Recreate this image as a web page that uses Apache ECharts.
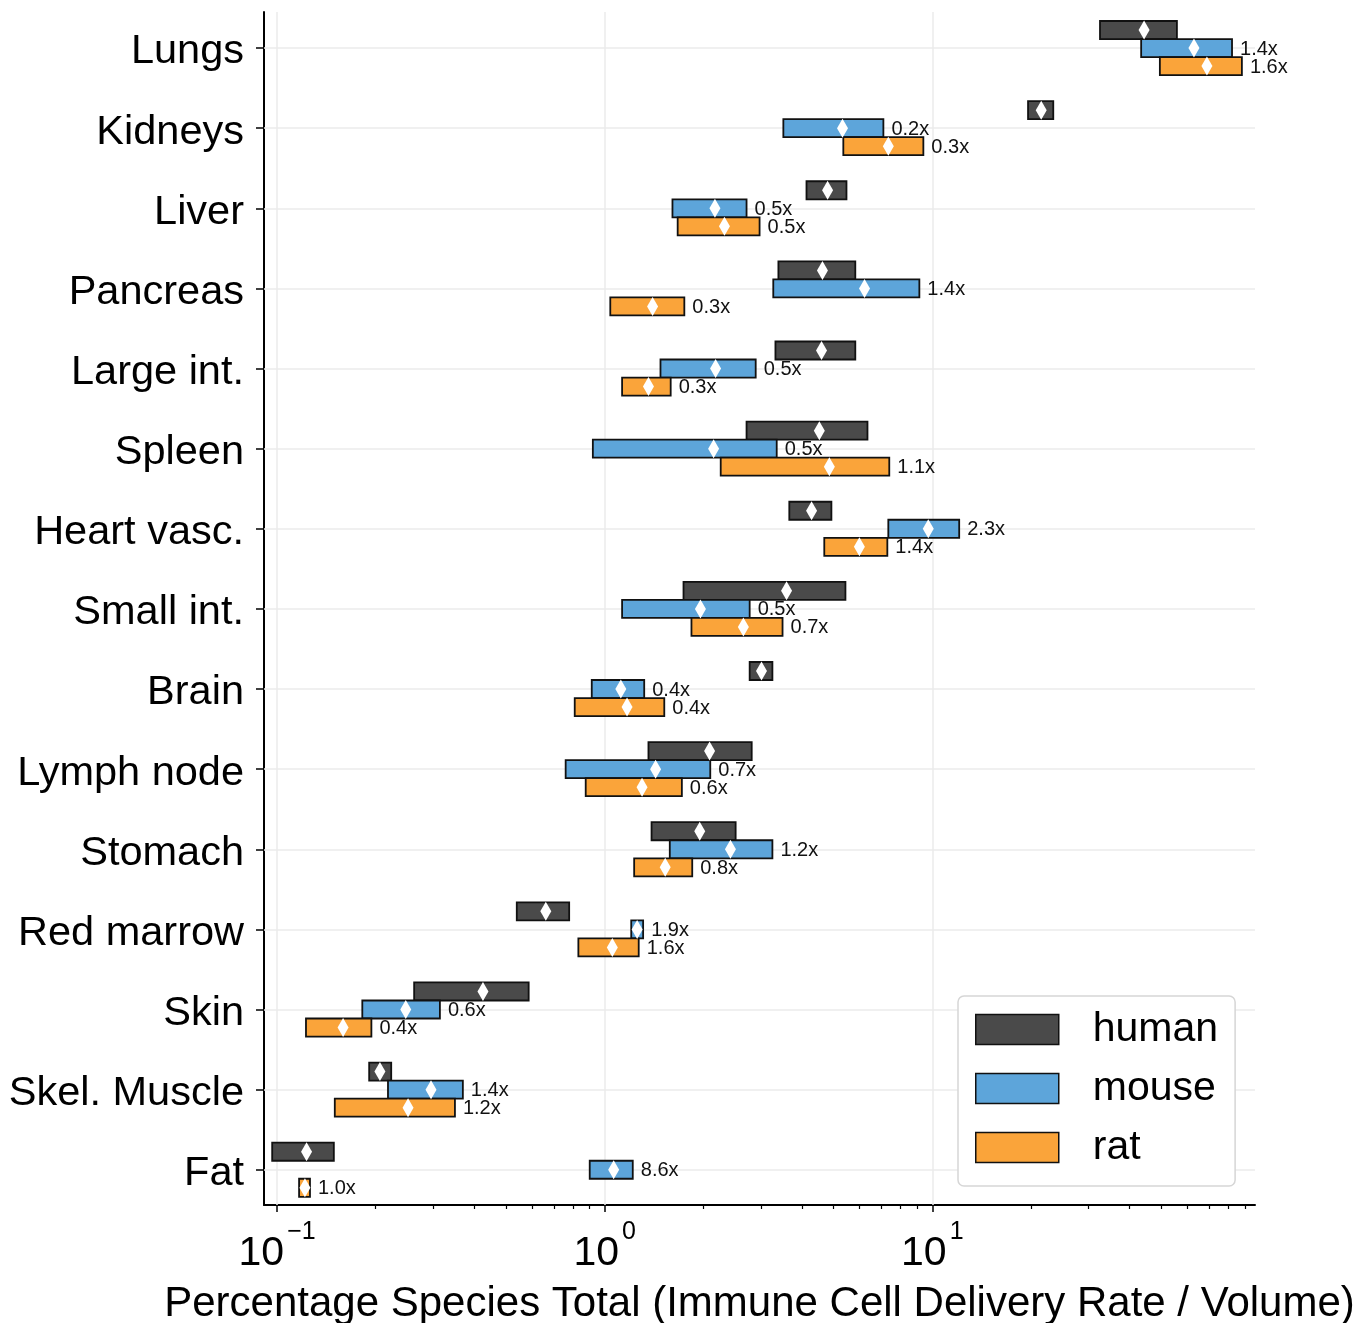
<!DOCTYPE html>
<html><head><meta charset="utf-8">
<script src="https://cdn.jsdelivr.net/npm/echarts@6/dist/echarts.min.js"></script>
<style>html,body{margin:0;padding:0;background:#fff}#c{width:1370px;height:1323px}</style>
</head><body><div id="c"></div>
<script>
const categories = ['Lungs','Kidneys','Liver','Pancreas','Large int.','Spleen','Heart vasc.','Small int.','Brain','Lymph node','Stomach','Red marrow','Skin','Skel. Muscle','Fat'];

const humanLow  = [32.5, 19.6, 4.13, 3.39, 3.32, 2.71, 3.66, 1.74, 2.77, 1.36, 1.39, 0.539, 0.262, 0.191, 0.0966];
const humanHigh = [55.8, 23.4, 5.47, 5.82, 5.82, 6.34, 4.92, 5.43, 3.25, 2.81, 2.51, 0.779, 0.586, 0.223, 0.149];
const humanMid  = [44.3, 21.5, 4.79, 4.62, 4.59, 4.52, 4.28, 3.59, 3.01, 2.09, 1.95, 0.661, 0.425, 0.206, 0.123];

const mouseLow  = [43.4, 3.51, 1.61, 3.27, 1.48, 0.92, 7.34, 1.13, 0.913, 0.76, 1.58, 1.205, 0.182, 0.218, 0.900];
const mouseHigh = [82.2, 7.09, 2.71, 9.13, 2.89, 3.35, 12.08, 2.77, 1.32, 2.10, 3.25, 1.31, 0.314, 0.369, 1.218];
const mouseMid  = [62.9, 5.32, 2.17, 6.21, 2.18, 2.15, 9.72, 1.96, 1.12, 1.43, 2.42, 1.256, 0.247, 0.295, 1.065];
const mouseLabels = ['1.4x','0.2x','0.5x','1.4x','0.5x','0.5x','2.3x','0.5x','0.4x','0.7x','1.2x','1.9x','0.6x','1.4x','8.6x'];

const ratLow  = [49.5, 5.35, 1.67, 1.04, 1.13, 2.26, 4.68, 1.84, 0.81, 0.875, 1.23, 0.831, 0.1225, 0.150, 0.1167];
const ratHigh = [88.1, 9.39, 2.97, 1.75, 1.59, 7.39, 7.29, 3.49, 1.52, 1.72, 1.85, 1.27, 0.194, 0.349, 0.126];
const ratMid  = [68.9, 7.34, 2.32, 1.40, 1.36, 4.85, 5.99, 2.65, 1.17, 1.30, 1.53, 1.055, 0.159, 0.251, 0.1216];
const ratLabels = ['1.6x','0.3x','0.5x','0.3x','0.3x','1.1x','1.4x','0.7x','0.4x','0.6x','0.8x','1.6x','0.4x','1.2x','1.0x'];

const tickExponents = [-1, 0, 1];
const xTitle = 'Percentage Species Total (Immune Cell Delivery Rate / Volume)';

const FONT = "'Liberation Sans', Arial, Helvetica, sans-serif";
const COLORS = {human:'#4A4A4A', mouse:'#5DA5DA', rat:'#FAA43A'};
const OFFSETS = {human:-0.225, mouse:0, rat:0.225};
const BAR_H = 0.225;
const XMIN = -1.04, XMAX = 1.985;
const lg = Math.log10;

const minorTicks = [];
for (let k = -2; k <= 1; k++) for (let m = 2; m <= 9; m++) {
  const v = lg(m) + k; if (v > XMIN && v < XMAX) minorTicks.push(v);
}
const catIdx = categories.map((c, i) => i);

function barData(lo, hi, off) { return lo.map((v, i) => [lg(v), lg(hi[i]), i + off]); }
function midData(mid, off) { return mid.map((v, i) => [lg(v), i + off]); }

function makeRender(color, labels) {
  return function (params, api) {
    const y = api.value(2);
    const p0 = api.coord([api.value(0), y]);
    const p1 = api.coord([api.value(1), y]);
    const h = api.size([0, BAR_H])[1];
    const children = [{
      type: 'rect',
      shape: {x: p0[0], y: p0[1] - h / 2, width: p1[0] - p0[0], height: h},
      style: {fill: color, stroke: '#111', lineWidth: 1.8}
    }];
    if (labels) children.push({
      type: 'text',
      style: {text: labels[params.dataIndex], x: p1[0] + 8, y: p1[1] + 1, align: 'left', verticalAlign: 'middle',
              fontSize: 20, fontFamily: FONT, fill: '#111'}
    });
    return {type: 'group', children};
  };
}

function barSeries(name, lo, hi, labels) {
  return {
    type: 'custom', name, z: 3,
    itemStyle: {color: COLORS[name]},
    renderItem: makeRender(COLORS[name], labels),
    encode: {x: [0, 1], y: 2},
    data: barData(lo, hi, OFFSETS[name]),
    silent: true
  };
}
function diamondSeries(mid, off) {
  return {
    type: 'scatter', z: 5, symbol: 'diamond', symbolSize: [11, 19],
    itemStyle: {color: '#fff', opacity: 1}, silent: true,
    data: midData(mid, off)
  };
}

const chart = echarts.init(document.getElementById('c'), null, {renderer: 'canvas'});
chart.setOption({
  animation: false,
  backgroundColor: '#fff',
  grid: {left: 264, right: 115, top: 12, bottom: 118, outerBoundsMode: 'none', containLabel: false},
  legend: {
    data: ['human', 'mouse', 'rat'].map(n => ({name: n, icon: 'rect',
      itemStyle: {color: COLORS[n], borderColor: '#111', borderWidth: 1.5}})),
    orient: 'vertical', left: 958, top: 996, padding: [13, 17, 18, 17],
    itemWidth: 83, itemHeight: 30, itemGap: 18,
    borderColor: '#d6d6d6', borderWidth: 1.5, borderRadius: 6, backgroundColor: '#fff',
    textStyle: {fontSize: 41, color: '#000', fontFamily: FONT, padding: [0, 0, 0, 29], lineHeight: 41},
    selectedMode: false
  },
  xAxis: [{
    type: 'value', min: XMIN, max: XMAX,
    axisLine: {show: true, onZero: false, lineStyle: {color: '#000', width: 2}},
    axisTick: {show: true, customValues: tickExponents, length: 7, lineStyle: {color: '#000', width: 1.5}},
    axisLabel: {
      customValues: tickExponents, margin: 15,
      formatter: v => '{b|10}{s|' + (v < 0 ? '\u2212' + (-v) : v) + '}',
      rich: {
        b: {fontSize: 41, fontFamily: FONT, color: '#000'},
        s: {fontSize: 25, fontFamily: FONT, color: '#000', padding: [0, 0, 43, 3]}
      }
    },
    splitLine: {show: false},
    name: xTitle, nameLocation: 'middle', nameGap: 78,
    nameTextStyle: {fontSize: 42, fontFamily: FONT, color: '#000'}
  }, {
    type: 'value', min: XMIN, max: XMAX, position: 'bottom',
    axisLine: {show: false, onZero: false},
    axisTick: {show: true, customValues: minorTicks, length: 4, lineStyle: {color: '#000', width: 1.2}},
    axisLabel: {show: false}, splitLine: {show: false}
  }],
  yAxis: {
    type: 'value', inverse: true, min: -0.45, max: 14.44,
    axisLine: {show: true, onZero: false, lineStyle: {color: '#000', width: 2}},
    axisTick: {show: true, customValues: catIdx, length: 8, lineStyle: {color: '#000', width: 1.5}},
    axisLabel: {customValues: catIdx, formatter: v => '{c|' + categories[Math.round(v)] + '}', margin: 20,
                rich: {c: {fontSize: 41.5, fontFamily: FONT, color: '#000', padding: [8, 0, 0, 0]}}},
    splitLine: {show: false}
  },
  series: [
    {
      type: 'scatter', data: [], z: 1, silent: true,
      markLine: {
        silent: true, symbol: 'none', label: {show: false}, z: 1,
        lineStyle: {color: '#ebebeb', width: 1.5, type: 'solid'},
        data: tickExponents.map(v => ({xAxis: v})).concat(catIdx.map(i => ({yAxis: i})))
      }
    },
    barSeries('human', humanLow, humanHigh, null),
    barSeries('mouse', mouseLow, mouseHigh, mouseLabels),
    barSeries('rat', ratLow, ratHigh, ratLabels),
    diamondSeries(humanMid, OFFSETS.human),
    diamondSeries(mouseMid, OFFSETS.mouse),
    diamondSeries(ratMid, OFFSETS.rat)
  ]
});
</script>
</body></html>
